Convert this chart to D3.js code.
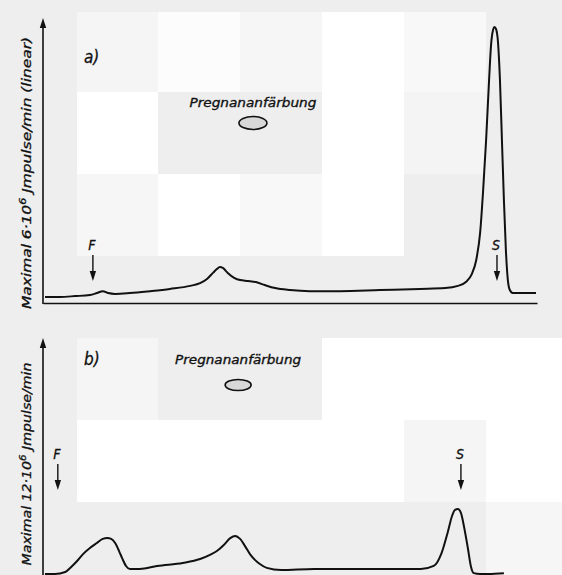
<!DOCTYPE html>
<html>

<head>
    <meta charset="utf-8">
    <script src="https://d3js.org/d3.v7.min.js"></script>
    <style>
        body { margin: 0; background: #eeeeee; }
        svg text {
            font-family: "Liberation Sans Narrow", "DejaVu Sans Condensed", "DejaVu Sans", sans-serif;
            font-style: italic;
            fill: #111;
            stroke: #111;
            stroke-width: 0.3px;
        }
    </style>
</head>

<body>
    <div id="chart"></div>
    <script>
        // migration distance (0-100, start -> front) and count rate in % of the panel maximum
        const topX = [0.4, 3.4, 6.5, 9.5, 10.9, 12.1, 13.2, 14.6, 17.6, 21.7, 25.7, 29.8, 31.8, 33.2, 34.4, 35.2, 35.8, 36.4, 37.4, 38.7,
            39.9, 41.5, 43.1, 44.9, 47.0, 50.0, 54.0, 60.1, 68.2, 76.3, 81.4, 84.0, 85.6, 86.8, 87.7, 88.5, 89.1, 89.7, 90.3, 90.7,
            91.1, 91.4, 91.7, 92.1, 92.5, 92.9, 93.3, 93.7, 94.1, 94.5, 95.1, 96.6, 99.8];
        const topY = [2.2, 2.2, 2.5, 2.9, 3.6, 4.3, 3.6, 3.3, 3.6, 4.3, 5.1, 6.2, 7.2, 8.7, 10.9, 12.3, 13.0, 12.7, 10.9, 9.1,
            8.3, 8.0, 7.6, 6.5, 5.4, 4.7, 4.3, 4.3, 4.7, 5.1, 5.4, 6.2, 7.6, 10.5, 15.6, 25.7, 40.9, 59.1, 80.8, 93.5,
            98.9, 100, 99.3, 94.6, 80.8, 59.1, 37.3, 19.2, 8.3, 4.7, 3.6, 3.6, 3.6];

        const botX = [0.4, 2.4, 4.5, 5.5, 6.9, 8.1, 9.5, 10.9, 12.1, 13.0, 13.8, 14.6, 15.4, 16.0, 16.8, 17.6, 19.6, 23.1, 28.3, 31.8,
            33.8, 35.2, 36.6, 37.9, 38.9, 39.9, 40.9, 41.9, 42.9, 43.9, 45.3, 48.2, 54.9, 68.4, 76.5, 79.1, 80.6, 82.0, 82.8, 83.4,
            84.0, 84.6, 85.2, 86.0, 86.6, 87.2, 88.5, 90.1, 93.3];
        const botY = [1.1, 1.1, 1.8, 3.3, 5.8, 8.3, 10.5, 12.3, 13.8, 14.1, 13.8, 12.3, 9.4, 6.9, 4.0, 2.9, 2.9, 4.0, 5.1, 6.5,
            8.0, 9.4, 11.6, 14.1, 14.9, 13.8, 11.2, 8.3, 6.2, 4.7, 3.3, 2.5, 2.9, 2.9, 2.9, 4.0, 8.3, 16.7, 22.1, 24.3,
            24.6, 23.2, 18.5, 10.5, 4.0, 1.4, 1.1, 1.1, 1.4];

        // start (F) and front (S) markers, same distance units
        const markerLabels = ["F", "S"];
        const topMarkers = [10.1, 91.9];
        const botMarkers = [3.0, 84.6];

        const panelTags = ["a)", "b)"];
        // y titles: [before superscript, superscript, after]
        const yTitles = [["Maximal 6\u00b710", "6", " Jmpulse/min (linear)"], ["Maximal 12\u00b710", "6", " Jmpulse/min"]];
        const spotLabel = "Pregnananf\u00e4rbung";
        const spotX = [42.5, 39.5];

        const W = 562, H = 575;

        const svg = d3.select("#chart").append("svg")
            .attr("width", W).attr("height", H);

        // scanned paper look: blotchy light blocks
        const edgesX = [-5, 77, 158, 240, 322, 404, 486, 568];
        const edgesY = [-70, 12, 92, 174, 256, 338, 420, 502, 584];
        const shades = [
            [1, 1, "#f5f5f5"], [1, 2, "#fcfcfc"], [1, 3, "#f6f6f6"], [1, 4, "#ffffff"], [1, 5, "#f8f8f8"],
            [2, 1, "#ffffff"], [2, 4, "#ffffff"], [2, 5, "#f4f4f4"],
            [3, 1, "#f6f6f6"], [3, 2, "#ffffff"], [3, 3, "#f8f8f8"], [3, 4, "#ffffff"],
            [5, 1, "#f5f5f5"], [5, 4, "#ffffff"], [5, 5, "#ffffff"], [5, 6, "#ffffff"],
            [6, 1, "#ffffff"], [6, 2, "#ffffff"], [6, 3, "#ffffff"], [6, 4, "#ffffff"], [6, 5, "#f5f5f5"], [6, 6, "#ffffff"],
            [7, 6, "#f6f6f6"]
        ];
        svg.append("rect").attr("width", W).attr("height", H).attr("fill", "#eeeeee");
        svg.append("g").selectAll("rect")
            .data(shades)
            .join("rect")
            .attr("x", d => edgesX[d[1]])
            .attr("y", d => edgesY[d[0]])
            .attr("width", d => edgesX[d[1] + 1] - edgesX[d[1]])
            .attr("height", d => edgesY[d[0] + 1] - edgesY[d[0]])
            .attr("fill", d => d[2]);

        const x = d3.scaleLinear().domain([0, 100]).range([43, 537]);

        const panels = [
            { xs: topX, ys: topY, marks: topMarkers, base: 303, top: 27, axisTop: 18, spotY: 123, rx: 14, ry: 6.5, textY: 107, textLen: 127, tagY: 63, titleMid: 173, titleLen: 272, markY: 250 },
            { xs: botX, ys: botY, marks: botMarkers, base: 577, top: 301, axisTop: 338, spotY: 385, rx: 13, ry: 5.5, textY: 364, textLen: 126, tagY: 365, titleMid: 464, titleLen: 203, markY: 459 }
        ];

        // small filled arrow head pointing up (dir=-1) or down (dir=1)
        function head(g, cx, tipY, dir) {
            g.append("path")
                .attr("d", `M${cx},${tipY} L${cx - 3.2},${tipY - dir * 10} L${cx + 3.2},${tipY - dir * 10} Z`)
                .attr("fill", "#111");
        }

        panels.forEach((p, i) => {
            const y = d3.scaleLinear().domain([0, 100]).range([p.base, p.top]);
            const g = svg.append("g");

            // baseline (distance axis), no ticks
            g.append("g")
                .attr("transform", `translate(0,${p.base})`)
                .call(d3.axisBottom(x).tickValues([]).tickSizeOuter(0))
                .call(a => a.select(".domain").attr("stroke", "#111").attr("stroke-width", 1.6));

            // count-rate axis with arrow
            g.append("path")
                .attr("d", `M${x(0)},${p.base + 1} V${p.axisTop + 6}`)
                .attr("stroke", "#111").attr("stroke-width", 1.6);
            head(g, x(0), p.axisTop, -1);

            const t = g.append("text")
                .attr("transform", `translate(31,${p.titleMid}) rotate(-90)`)
                .attr("text-anchor", "middle")
                .attr("font-size", 12.5)
                .attr("textLength", p.titleLen)
                .attr("lengthAdjust", "spacingAndGlyphs");
            t.append("tspan").text(yTitles[i][0]);
            t.append("tspan").attr("dy", -5).attr("font-size", 9).text(yTitles[i][1]);
            t.append("tspan").attr("dy", 5).text(yTitles[i][2]);

            // trace
            const pts = p.xs.map((v, k) => [v, p.ys[k]]);
            g.append("path")
                .datum(pts)
                .attr("fill", "none")
                .attr("stroke", "#111")
                .attr("stroke-width", 2)
                .attr("stroke-linejoin", "round")
                .attr("d", d3.line()
                    .x(d => x(d[0]))
                    .y(d => y(d[1]))
                    .curve(d3.curveMonotoneX));

            // F / S markers
            p.marks.forEach((m, k) => {
                g.append("text")
                    .attr("x", x(m) - 1).attr("y", p.markY)
                    .attr("text-anchor", "middle")
                    .attr("font-size", 14)
                    .text(markerLabels[k]);
                g.append("path")
                    .attr("d", `M${x(m)},${p.markY + 5} V${p.markY + 24}`)
                    .attr("stroke", "#111").attr("stroke-width", 1.4);
                head(g, x(m), p.markY + 31, 1);
            });

            // panel tag
            g.append("text")
                .attr("x", 84).attr("y", p.tagY)
                .attr("font-size", 17)
                .attr("font-family", "DejaVu Serif, serif")
                .text(panelTags[i]);

            // staining spot
            g.append("text")
                .attr("x", x(spotX[i])).attr("y", p.textY)
                .attr("text-anchor", "middle")
                .attr("font-size", 12)
                .attr("textLength", p.textLen)
                .attr("lengthAdjust", "spacingAndGlyphs")
                .text(spotLabel);
            g.append("ellipse")
                .attr("cx", x(spotX[i])).attr("cy", p.spotY)
                .attr("rx", p.rx).attr("ry", p.ry)
                .attr("fill", "#d8d8d8")
                .attr("stroke", "#111").attr("stroke-width", 1.6);
        });
    </script>
</body>

</html>
